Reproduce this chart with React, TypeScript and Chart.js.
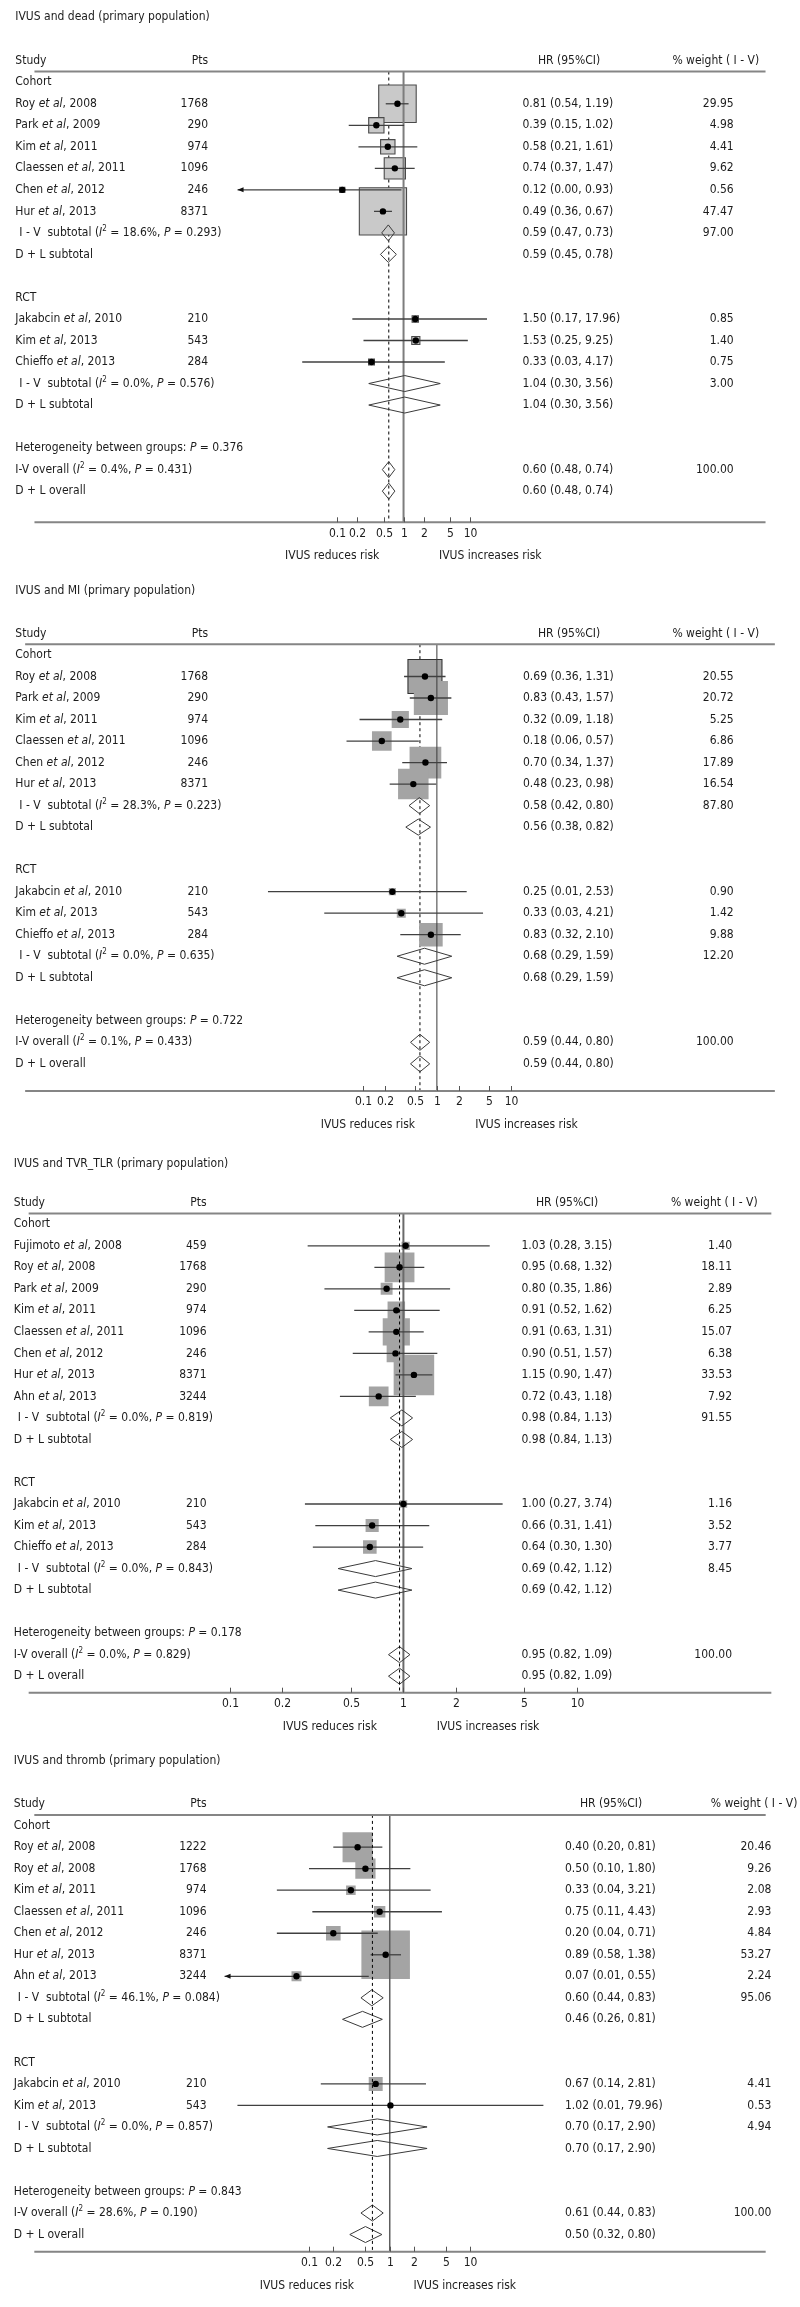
import React, { useEffect, useRef } from 'react';
import { Chart, registerables } from 'chart.js';

Chart.register(...registerables);

// ---------------- shared categories / ticks ----------------
const GROUPS = ['Cohort', 'RCT'];
const TICKS = [0.1, 0.2, 0.5, 1, 2, 5, 10];
const TICK_LABELS = ['0.1', '0.2', '0.5', '1', '2', '5', '10'];

// ---------------- Panel 1: IVUS and dead ----------------
const deadTitle = 'IVUS and dead (primary population)';
const deadAuthors = ['Roy', 'Park', 'Kim', 'Claessen', 'Chen', 'Hur', 'Jakabcin', 'Kim', 'Chieffo'];
const deadYears = [2008, 2009, 2011, 2011, 2012, 2013, 2010, 2013, 2013];
const deadGroups = ['Cohort', 'Cohort', 'Cohort', 'Cohort', 'Cohort', 'Cohort', 'RCT', 'RCT', 'RCT'];
const deadPts = [1768, 290, 974, 1096, 246, 8371, 210, 543, 284];
const deadHR = [0.81, 0.39, 0.58, 0.74, 0.12, 0.49, 1.5, 1.53, 0.33];
const deadLo = [0.54, 0.15, 0.21, 0.37, 0.002, 0.36, 0.17, 0.25, 0.03];
const deadHi = [1.19, 1.02, 1.61, 1.47, 0.93, 0.67, 17.96, 9.25, 4.17];
const deadWeight = [29.95, 4.98, 4.41, 9.62, 0.56, 47.47, 0.85, 1.4, 0.75];
// pooled: [Cohort, RCT, overall]
const deadIV_HR = [0.59, 1.04, 0.6];
const deadIV_Lo = [0.47, 0.3, 0.48];
const deadIV_Hi = [0.73, 3.56, 0.74];
const deadIV_Weight = [97.0, 3.0, 100.0];
const deadDL_HR = [0.59, 1.04, 0.6];
const deadDL_Lo = [0.45, 0.3, 0.48];
const deadDL_Hi = [0.78, 3.56, 0.74];
const deadI2 = [18.6, 0.0, 0.4];
const deadHetP = [0.293, 0.576, 0.431];
const deadBetweenP = 0.376;

// ---------------- Panel 2: IVUS and MI ----------------
const miTitle = 'IVUS and MI (primary population)';
const miAuthors = ['Roy', 'Park', 'Kim', 'Claessen', 'Chen', 'Hur', 'Jakabcin', 'Kim', 'Chieffo'];
const miYears = [2008, 2009, 2011, 2011, 2012, 2013, 2010, 2013, 2013];
const miGroups = ['Cohort', 'Cohort', 'Cohort', 'Cohort', 'Cohort', 'Cohort', 'RCT', 'RCT', 'RCT'];
const miPts = [1768, 290, 974, 1096, 246, 8371, 210, 543, 284];
const miHR = [0.69, 0.83, 0.32, 0.18, 0.7, 0.48, 0.25, 0.33, 0.83];
const miLo = [0.36, 0.43, 0.09, 0.06, 0.34, 0.23, 0.0052, 0.03, 0.32];
const miHi = [1.31, 1.57, 1.18, 0.57, 1.37, 0.98, 2.53, 4.21, 2.1];
const miWeight = [20.55, 20.72, 5.25, 6.86, 17.89, 16.54, 0.9, 1.42, 9.88];
const miIV_HR = [0.58, 0.68, 0.59];
const miIV_Lo = [0.42, 0.29, 0.44];
const miIV_Hi = [0.8, 1.59, 0.8];
const miIV_Weight = [87.8, 12.2, 100.0];
const miDL_HR = [0.56, 0.68, 0.59];
const miDL_Lo = [0.38, 0.29, 0.44];
const miDL_Hi = [0.82, 1.59, 0.8];
const miI2 = [28.3, 0.0, 0.1];
const miHetP = [0.223, 0.635, 0.433];
const miBetweenP = 0.722;

// ---------------- Panel 3: IVUS and TVR_TLR ----------------
const tvrTitle = 'IVUS and TVR_TLR (primary population)';
const tvrAuthors = ['Fujimoto', 'Roy', 'Park', 'Kim', 'Claessen', 'Chen', 'Hur', 'Ahn', 'Jakabcin', 'Kim', 'Chieffo'];
const tvrYears = [2008, 2008, 2009, 2011, 2011, 2012, 2013, 2013, 2010, 2013, 2013];
const tvrGroups = ['Cohort', 'Cohort', 'Cohort', 'Cohort', 'Cohort', 'Cohort', 'Cohort', 'Cohort', 'RCT', 'RCT', 'RCT'];
const tvrPts = [459, 1768, 290, 974, 1096, 246, 8371, 3244, 210, 543, 284];
const tvrHR = [1.03, 0.95, 0.8, 0.91, 0.91, 0.9, 1.15, 0.72, 1.0, 0.66, 0.64];
const tvrLo = [0.28, 0.68, 0.35, 0.52, 0.63, 0.51, 0.9, 0.43, 0.27, 0.31, 0.3];
const tvrHi = [3.15, 1.32, 1.86, 1.62, 1.31, 1.57, 1.47, 1.18, 3.74, 1.41, 1.3];
const tvrWeight = [1.4, 18.11, 2.89, 6.25, 15.07, 6.38, 33.53, 7.92, 1.16, 3.52, 3.77];
const tvrIV_HR = [0.98, 0.69, 0.95];
const tvrIV_Lo = [0.84, 0.42, 0.82];
const tvrIV_Hi = [1.13, 1.12, 1.09];
const tvrIV_Weight = [91.55, 8.45, 100.0];
const tvrDL_HR = [0.98, 0.69, 0.95];
const tvrDL_Lo = [0.84, 0.42, 0.82];
const tvrDL_Hi = [1.13, 1.12, 1.09];
const tvrI2 = [0.0, 0.0, 0.0];
const tvrHetP = [0.819, 0.843, 0.829];
const tvrBetweenP = 0.178;

// ---------------- Panel 4: IVUS and thromb ----------------
const thrTitle = 'IVUS and thromb (primary population)';
const thrAuthors = ['Roy', 'Roy', 'Kim', 'Claessen', 'Chen', 'Hur', 'Ahn', 'Jakabcin', 'Kim'];
const thrYears = [2008, 2008, 2011, 2011, 2012, 2013, 2013, 2010, 2013];
const thrGroups = ['Cohort', 'Cohort', 'Cohort', 'Cohort', 'Cohort', 'Cohort', 'Cohort', 'RCT', 'RCT'];
const thrPts = [1222, 1768, 974, 1096, 246, 8371, 3244, 210, 543];
const thrHR = [0.4, 0.5, 0.33, 0.75, 0.2, 0.89, 0.07, 0.67, 1.02];
const thrLo = [0.2, 0.1, 0.04, 0.11, 0.04, 0.58, 0.006, 0.14, 0.013];
const thrHi = [0.81, 1.8, 3.21, 4.43, 0.71, 1.38, 0.55, 2.81, 79.96];
const thrWeight = [20.46, 9.26, 2.08, 2.93, 4.84, 53.27, 2.24, 4.41, 0.53];
const thrIV_HR = [0.6, 0.7, 0.61];
const thrIV_Lo = [0.44, 0.17, 0.44];
const thrIV_Hi = [0.83, 2.9, 0.83];
const thrIV_Weight = [95.06, 4.94, 100.0];
const thrDL_HR = [0.46, 0.7, 0.5];
const thrDL_Lo = [0.26, 0.17, 0.32];
const thrDL_Hi = [0.81, 2.9, 0.8];
const thrI2 = [46.1, 0.0, 28.6];
const thrHetP = [0.084, 0.857, 0.19];
const thrBetweenP = 0.843;

// ---------------- tables built from the arrays ----------------
const PANEL_DATA = [
  { title: deadTitle, authors: deadAuthors, years: deadYears, groups: deadGroups, pts: deadPts, hr: deadHR, lo: deadLo, hi: deadHi, w: deadWeight, ivHR: deadIV_HR, ivLo: deadIV_Lo, ivHi: deadIV_Hi, ivW: deadIV_Weight, dlHR: deadDL_HR, dlLo: deadDL_Lo, dlHi: deadDL_Hi, i2: deadI2, hetP: deadHetP, betweenP: deadBetweenP },
  { title: miTitle, authors: miAuthors, years: miYears, groups: miGroups, pts: miPts, hr: miHR, lo: miLo, hi: miHi, w: miWeight, ivHR: miIV_HR, ivLo: miIV_Lo, ivHi: miIV_Hi, ivW: miIV_Weight, dlHR: miDL_HR, dlLo: miDL_Lo, dlHi: miDL_Hi, i2: miI2, hetP: miHetP, betweenP: miBetweenP },
  { title: tvrTitle, authors: tvrAuthors, years: tvrYears, groups: tvrGroups, pts: tvrPts, hr: tvrHR, lo: tvrLo, hi: tvrHi, w: tvrWeight, ivHR: tvrIV_HR, ivLo: tvrIV_Lo, ivHi: tvrIV_Hi, ivW: tvrIV_Weight, dlHR: tvrDL_HR, dlLo: tvrDL_Lo, dlHi: tvrDL_Hi, i2: tvrI2, hetP: tvrHetP, betweenP: tvrBetweenP },
  { title: thrTitle, authors: thrAuthors, years: thrYears, groups: thrGroups, pts: thrPts, hr: thrHR, lo: thrLo, hi: thrHi, w: thrWeight, ivHR: thrIV_HR, ivLo: thrIV_Lo, ivHi: thrIV_Hi, ivW: thrIV_Weight, dlHR: thrDL_HR, dlLo: thrDL_Lo, dlHi: thrDL_Hi, i2: thrI2, hetP: thrHetP, betweenP: thrBetweenP },
];

// ---------------- layout & style (kept apart from the data) ----------------
const ROW_H = 21.52;
const AREA_LEFT = 12.5;
const AREA_RIGHT = 786;
const FONT = "'DejaVu Sans Condensed', 'Liberation Sans', Arial, sans-serif";
const FS = 12;
const TEXT = '#1c1c1c';
const RULE = '#858585';

const PANEL_LAYOUT = [
  { top: 0, height: 572, titleY: 17.3, headerLineY: 71.5, axisLineY: 522.3, onePx: 403, pxPerDecade: 70.4, clipMin: 0.0032,
    studyX: 15.3, ptsRight: 208, hrLeft: 522.5, hrHeadCenter: 569, wRight: 733.7, wHeadLeft: 672.4, reducesX: 332.2, increasesX: 490.3,
    boxK: 6.85, boxFill: '#c9c9c9', boxStroke: '#4a4a4a', outlineAll: true, outlined: [] as number[], refColor: '#7d7d7d', refWidth: 2, dashedOnTop: false },
  { top: 572, height: 574, titleY: 18.7, headerLineY: 72.2, axisLineY: 519, onePx: 437.3, pxPerDecade: 76.3, clipMin: 0.003,
    studyX: 15.3, ptsRight: 208, hrLeft: 523, hrHeadCenter: 569, wRight: 733.7, wHeadLeft: 672.4, reducesX: 367.9, increasesX: 526.5,
    boxK: 7.5, boxFill: '#a4a4a4', boxStroke: '#333333', outlineAll: false, outlined: [0], refColor: '#3a3a3a', refWidth: 1, dashedOnTop: false },
  { top: 1146, height: 596, titleY: 18, headerLineY: 67.5, axisLineY: 546.7, onePx: 402.8, pxPerDecade: 180.4, clipMin: 0.01,
    studyX: 13.8, ptsRight: 206.6, hrLeft: 521.5, hrHeadCenter: 567, wRight: 732.1, wHeadLeft: 670.9, reducesX: 329.8, increasesX: 488,
    boxK: 7.0, boxFill: '#a4a4a4', boxStroke: '#333333', outlineAll: false, outlined: [] as number[], refColor: '#6a6a6a', refWidth: 2, dashedOnTop: true },
  { top: 1742, height: 565, titleY: 18.7, headerLineY: 72.9, axisLineY: 509.7, onePx: 388.4, pxPerDecade: 85.4, clipMin: 0.009,
    studyX: 13.8, ptsRight: 206.6, hrLeft: 565, hrHeadCenter: 611, wRight: 771.4, wHeadLeft: 710.7, reducesX: 306.9, increasesX: 464.8,
    boxK: 6.65, boxFill: '#a4a4a4', boxStroke: '#333333', outlineAll: false, outlined: [] as number[], refColor: '#5e5e5e', refWidth: 1.5, dashedOnTop: true },
];

type Seg = { t: string; it?: boolean; sup?: boolean };
type Row = { kind: string; label?: string; i?: number; gi?: number };

function segFont(s: Seg) {
  return `${s.it ? 'italic ' : ''}${s.sup ? 8 : FS}px ${FONT}`;
}

function drawSegs(ctx: CanvasRenderingContext2D, segs: Seg[], x: number, y: number, align = 'left') {
  let total = 0;
  const widths = segs.map((s) => {
    ctx.font = segFont(s);
    const w = ctx.measureText(s.t).width;
    total += w;
    return w;
  });
  let cx = align === 'right' ? x - total : align === 'center' ? x - total / 2 : x;
  ctx.textAlign = 'left';
  segs.forEach((s, k) => {
    ctx.font = segFont(s);
    ctx.fillText(s.t, cx, s.sup ? y - 4 : y);
    cx += widths[k];
  });
}

function buildRows(d: any): Row[] {
  const rows: Row[] = [];
  GROUPS.forEach((g, gi) => {
    rows.push({ kind: 'group', label: g });
    d.groups.forEach((gg: string, i: number) => {
      if (gg === g) rows.push({ kind: 'study', i });
    });
    rows.push({ kind: 'iv', gi });
    rows.push({ kind: 'dl', gi });
    rows.push({ kind: 'blank' });
  });
  rows.push({ kind: 'het' });
  rows.push({ kind: 'iv', gi: 2 });
  rows.push({ kind: 'dl', gi: 2 });
  return rows;
}

const f2 = (v: number) => v.toFixed(2);
const ciText = (h: number, l: number, u: number) => `${f2(h)} (${f2(l)}, ${f2(u)})`;

function makePlugin(d: any, L: any, rows: Row[]) {
  const drawDashed = (chart: any) => {
    const { ctx, chartArea, scales } = chart;
    const x = scales.x.getPixelForValue(d.ivHR[2]);
    ctx.save();
    ctx.strokeStyle = '#000';
    ctx.lineWidth = 1;
    ctx.setLineDash([3, 3]);
    ctx.beginPath();
    ctx.moveTo(x, chartArea.top);
    ctx.lineTo(x, chartArea.bottom);
    ctx.stroke();
    ctx.restore();
  };
  return {
    id: 'forest',
    beforeDatasetsDraw(chart: any) {
      if (!L.dashedOnTop) drawDashed(chart);
    },
    afterDatasetDraw(chart: any, args: any) {
      if (args.index !== 1) return;
      const { ctx, chartArea, scales } = chart;
      const xs = scales.x;
      const ys = scales.y;
      ctx.save();
      // line of no effect
      const x1 = xs.getPixelForValue(1);
      ctx.strokeStyle = L.refColor;
      ctx.lineWidth = L.refWidth;
      ctx.beginPath();
      ctx.moveTo(x1, chartArea.top);
      ctx.lineTo(x1, chartArea.bottom);
      ctx.stroke();
      // confidence intervals
      rows.forEach((r, idx) => {
        if (r.kind !== 'study') return;
        const i = r.i as number;
        const y = ys.getPixelForValue(idx);
        const clipped = d.lo[i] < L.clipMin;
        const xl = xs.getPixelForValue(Math.max(d.lo[i], L.clipMin));
        const xh = xs.getPixelForValue(d.hi[i]);
        ctx.strokeStyle = '#404040';
        ctx.lineWidth = 1.3;
        ctx.beginPath();
        ctx.moveTo(xl, y);
        ctx.lineTo(xh, y);
        ctx.stroke();
        if (clipped) {
          ctx.fillStyle = '#111';
          ctx.beginPath();
          ctx.moveTo(xl, y);
          ctx.lineTo(xl + 6, y - 2.5);
          ctx.lineTo(xl + 6, y + 2.5);
          ctx.closePath();
          ctx.fill();
        }
      });
      ctx.restore();
    },
    afterDatasetsDraw(chart: any) {
      const { ctx, scales } = chart;
      const xs = scales.x;
      const ys = scales.y;
      ctx.save();
      ctx.strokeStyle = '#3a3a3a';
      ctx.lineWidth = 1;
      rows.forEach((r, idx) => {
        if (r.kind !== 'iv' && r.kind !== 'dl') return;
        const gi = r.gi as number;
        const h = r.kind === 'iv' ? d.ivHR[gi] : d.dlHR[gi];
        const l = r.kind === 'iv' ? d.ivLo[gi] : d.dlLo[gi];
        const u = r.kind === 'iv' ? d.ivHi[gi] : d.dlHi[gi];
        const y = ys.getPixelForValue(idx);
        const half = 8;
        ctx.beginPath();
        ctx.moveTo(xs.getPixelForValue(l), y);
        ctx.lineTo(xs.getPixelForValue(h), y - half);
        ctx.lineTo(xs.getPixelForValue(u), y);
        ctx.lineTo(xs.getPixelForValue(h), y + half);
        ctx.closePath();
        ctx.stroke();
      });
      ctx.restore();
      if (L.dashedOnTop) drawDashed(chart);
    },
    afterDraw(chart: any) {
      const { ctx, chartArea, scales } = chart;
      const xs = scales.x;
      const ys = scales.y;
      ctx.save();
      // header rule and axis line
      ctx.strokeStyle = RULE;
      ctx.lineWidth = 2;
      ctx.beginPath();
      ctx.moveTo(chartArea.left, chartArea.top);
      ctx.lineTo(chartArea.right, chartArea.top);
      ctx.moveTo(chartArea.left, chartArea.bottom);
      ctx.lineTo(chartArea.right, chartArea.bottom);
      ctx.stroke();
      // ticks
      ctx.lineWidth = 1;
      ctx.fillStyle = TEXT;
      ctx.textBaseline = 'middle';
      TICKS.forEach((v, k) => {
        const px = Math.round(xs.getPixelForValue(v)) + 0.5;
        ctx.strokeStyle = '#555';
        ctx.beginPath();
        ctx.moveTo(px, chartArea.bottom - 5);
        ctx.lineTo(px, chartArea.bottom);
        ctx.stroke();
        drawSegs(ctx, [{ t: TICK_LABELS[k] }], px, chartArea.bottom + 11.3, 'center');
      });
      drawSegs(ctx, [{ t: 'IVUS reduces risk' }], L.reducesX, chartArea.bottom + 34, 'center');
      drawSegs(ctx, [{ t: 'IVUS increases risk' }], L.increasesX, chartArea.bottom + 34, 'center');
      // title and header
      drawSegs(ctx, [{ t: d.title }], L.studyX, L.titleY);
      const hy = ys.getPixelForValue(-1);
      drawSegs(ctx, [{ t: 'Study' }], L.studyX, hy);
      drawSegs(ctx, [{ t: 'Pts' }], L.ptsRight, hy, 'right');
      drawSegs(ctx, [{ t: 'HR (95%CI)' }], L.hrHeadCenter, hy, 'center');
      drawSegs(ctx, [{ t: '% weight ( I - V)' }], L.wHeadLeft, hy);
      // rows
      rows.forEach((r, idx) => {
        const y = ys.getPixelForValue(idx);
        if (r.kind === 'group') {
          drawSegs(ctx, [{ t: r.label as string }], L.studyX, y);
        } else if (r.kind === 'study') {
          const i = r.i as number;
          drawSegs(ctx, [{ t: d.authors[i] + ' ' }, { t: 'et al', it: true }, { t: ', ' + d.years[i] }], L.studyX, y);
          drawSegs(ctx, [{ t: String(d.pts[i]) }], L.ptsRight, y, 'right');
          drawSegs(ctx, [{ t: ciText(d.hr[i], d.lo[i], d.hi[i]) }], L.hrLeft, y);
          drawSegs(ctx, [{ t: f2(d.w[i]) }], L.wRight, y, 'right');
        } else if (r.kind === 'iv') {
          const gi = r.gi as number;
          const overall = gi === 2;
          drawSegs(
            ctx,
            [
              { t: overall ? 'I-V overall (' : 'I - V  subtotal (' },
              { t: 'I', it: true },
              { t: '2', sup: true },
              { t: ` = ${d.i2[gi].toFixed(1)}%, ` },
              { t: 'P', it: true },
              { t: ` = ${d.hetP[gi].toFixed(3)})` },
            ],
            overall ? L.studyX : L.studyX + 4,
            y
          );
          drawSegs(ctx, [{ t: ciText(d.ivHR[gi], d.ivLo[gi], d.ivHi[gi]) }], L.hrLeft, y);
          drawSegs(ctx, [{ t: f2(d.ivW[gi]) }], L.wRight, y, 'right');
        } else if (r.kind === 'dl') {
          const gi = r.gi as number;
          drawSegs(ctx, [{ t: gi === 2 ? 'D + L overall' : 'D + L subtotal' }], L.studyX, y);
          drawSegs(ctx, [{ t: ciText(d.dlHR[gi], d.dlLo[gi], d.dlHi[gi]) }], L.hrLeft, y);
        } else if (r.kind === 'het') {
          drawSegs(ctx, [{ t: 'Heterogeneity between groups: ' }, { t: 'P', it: true }, { t: ` = ${d.betweenP.toFixed(3)}` }], L.studyX, y);
        }
      });
      ctx.restore();
    },
  };
}

function ForestPanel({ d, L }: { d: any; L: any }) {
  const ref = useRef<HTMLCanvasElement>(null);
  useEffect(() => {
    if (!ref.current) return;
    const rows = buildRows(d);
    const studyRows = rows.map((r, idx) => ({ r, idx })).filter((o) => o.r.kind === 'study');
    const points = studyRows.map((o) => ({ x: d.hr[o.r.i as number], y: o.idx }));
    const boxRadii = studyRows.map((o) => (L.boxK * Math.sqrt(d.w[o.r.i as number])) / (2 * Math.SQRT1_2));
    const boxBorders = studyRows.map((o, k) => (L.outlineAll || L.outlined.includes(k) ? 1.1 : 0));
    const xMin = Math.pow(10, (AREA_LEFT - L.onePx) / L.pxPerDecade);
    const xMax = Math.pow(10, (AREA_RIGHT - L.onePx) / L.pxPerDecade);
    const yMax = (L.axisLineY - L.headerLineY) / ROW_H - 0.5;

    const chart = new Chart(ref.current, {
      type: 'scatter',
      data: {
        datasets: [
          {
            label: 'Estimate',
            data: points,
            pointStyle: 'circle',
            pointRadius: 3.2,
            backgroundColor: '#000',
            borderWidth: 0,
            order: 0,
          },
          {
            label: 'Weight',
            data: points,
            pointStyle: 'rect',
            pointRadius: boxRadii,
            backgroundColor: L.boxFill,
            borderColor: L.boxStroke,
            borderWidth: boxBorders,
            order: 1,
          },
        ],
      } as any,
      options: {
        responsive: false,
        animation: false,
        devicePixelRatio: 1,
        events: [],
        layout: {
          padding: { left: AREA_LEFT, right: 800 - AREA_RIGHT, top: L.headerLineY, bottom: L.height - L.axisLineY },
        },
        scales: {
          x: { type: 'logarithmic', display: false, min: xMin, max: xMax, bounds: 'data' },
          y: { type: 'linear', display: false, reverse: true, min: -0.5, max: yMax, bounds: 'data' },
        },
        plugins: { legend: { display: false }, tooltip: { enabled: false } },
      } as any,
      plugins: [makePlugin(d, L, rows)],
    });
    return () => chart.destroy();
  }, []);
  return (
    <canvas
      ref={ref}
      width={800}
      height={L.height}
      style={{ position: 'absolute', left: 0, top: L.top, width: 800, height: L.height, display: 'block' }}
    />
  );
}

export default function App() {
  return (
    <div style={{ position: 'absolute', left: 0, top: 0, width: 800, height: 2307, background: '#fff', overflow: 'hidden' }}>
      {PANEL_DATA.map((d, k) => (
        <ForestPanel key={k} d={d} L={PANEL_LAYOUT[k]} />
      ))}
    </div>
  );
}
